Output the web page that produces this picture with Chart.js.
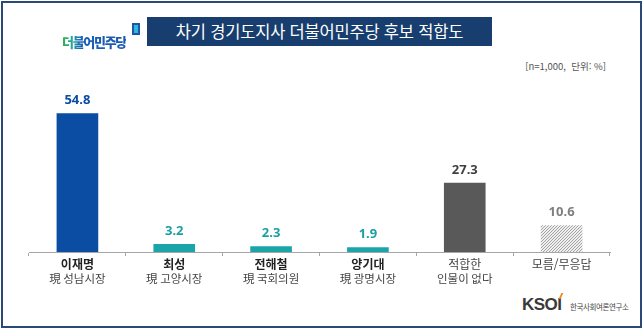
<!DOCTYPE html>
<html lang="ko">
<head>
<meta charset="utf-8">
<script src="https://cdn.jsdelivr.net/npm/chart.js@4.4.1/dist/chart.umd.min.js"></script>
<style>
  html, body { margin: 0; padding: 0; background: #fff; }
  body { width: 643px; height: 329px; position: relative; overflow: hidden;
         font-family: "Noto Sans CJK KR", "Noto Sans", sans-serif; }
  .frame { position: absolute; left: 1px; top: 1px; width: 637px; height: 323px;
           border: 2px solid #2a4878; }
  .title { position: absolute; left: 147px; top: 17px; width: 345px; height: 29px;
           background: #173e6e; color: #fff; font-size: 16.5px; line-height: 29px;
           text-align: center; letter-spacing: -0.2px; }
  .party { position: absolute; left: 62px; top: 34px; font-size: 13px; font-weight: 900;
           letter-spacing: -1.3px; line-height: 16px;
           background: linear-gradient(90deg, #35b046 0%, #23a7a0 16%, #1a62b6 30%, #1a58ad 100%);
           -webkit-background-clip: text; background-clip: text; color: transparent; }
  .flag { position: absolute; left: 132px; top: 23px; width: 4px; height: 8px;
          border: 2px solid #1d57a8; background: #2fb8d8; }
  .note { position: absolute; right: 37px; top: 59px; font-size: 9.5px; color: #555; }
  .ksoi { position: absolute; left: 522px; top: 296px; font-family: "Liberation Sans", sans-serif;
          font-size: 17px; font-weight: 700; color: #3a3a3a; letter-spacing: -0.5px; line-height: 18px; }
  .ksoi i { position: absolute; left: 38px; top: -3px; width: 2px; height: 6px; background: #f08a1c;
            transform: skewX(-25deg); }
  .ksoi-sub { position: absolute; left: 570px; top: 301px; font-size: 7.5px; color: #444;
              letter-spacing: -0.4px; }
  .wrap { position: absolute; left: 0; top: 0; width: 643px; height: 329px; }
</style>
</head>
<body>
<div class="frame"></div>
<div class="party">더불어민주당</div>
<div class="flag"></div>
<div class="title">차기 경기도지사 더불어민주당 후보 적합도</div>
<div class="note">[n=1,000,&nbsp; 단위: %]</div>
<div class="ksoi">KSOI<i></i></div>
<div class="ksoi-sub">한국사회여론연구소</div>
<div class="wrap"><canvas id="chart"></canvas></div>

<script>
// 후보별 적합도 (%)
const names = ["이재명", "최성", "전해철", "양기대", "적합한", "모름/무응답"];
const roles = ["現 성남시장", "現 고양시장", "現 국회의원", "現 광명시장", "인물이 없다", ""];
const values = [54.8, 3.2, 2.3, 1.9, 27.3, 10.6];

// 무응답 막대용 빗금 패턴
function hatch() {
  const c = document.createElement("canvas");
  c.width = 3; c.height = 3;
  const g = c.getContext("2d");
  g.fillStyle = "#efefef";
  g.fillRect(0, 0, 3, 3);
  g.strokeStyle = "#9a9a9a";
  g.lineWidth = 0.9;
  g.beginPath();
  g.moveTo(-1, 4); g.lineTo(4, -1);
  g.moveTo(-1, 1); g.lineTo(1, -1);
  g.moveTo(2, 4); g.lineTo(4, 2);
  g.stroke();
  return g.createPattern(c, "repeat");
}

const ctx = document.getElementById("chart").getContext("2d");
const barColors = ["#0b4da2", "#1ba5a8", "#1ba5a8", "#1ba5a8", "#595959", hatch()];
const labelColors = ["#0b4da2", "#1a9fa3", "#1a9fa3", "#1a9fa3", "#404040", "#7f7f7f"];

// 막대 위 수치
const valueLabels = {
  id: "valueLabels",
  afterDatasetsDraw(chart) {
    const c = chart.ctx;
    const meta = chart.getDatasetMeta(0);
    c.save();
    c.font = "bold 13px 'Noto Sans', 'Noto Sans CJK KR', sans-serif";
    c.textAlign = "center";
    c.textBaseline = "middle";
    meta.data.forEach((bar, i) => {
      c.fillStyle = labelColors[i];
      c.fillText(values[i].toFixed(1), bar.x, bar.y - 13);
    });
    c.restore();
  }
};

// 두 줄 항목명 (후보 이름은 굵게)
const categoryLabels = {
  id: "categoryLabels",
  afterDraw(chart) {
    const c = chart.ctx;
    const x = chart.scales.x;
    c.save();
    c.textAlign = "center";
    c.textBaseline = "middle";
    names.forEach((n, i) => {
      const px = x.getPixelForValue(i);
      const bold = i < 4;
      c.font = (bold ? "bold " : "") + "12px 'Noto Sans CJK KR', sans-serif";
      c.fillStyle = bold ? "#222" : "#444";
      c.fillText(n, px, 264);
      if (roles[i]) {
        c.font = "11.5px 'Noto Sans CJK KR', sans-serif";
        c.fillStyle = "#444";
        c.fillText(roles[i], px, 279);
      }
    });
    c.restore();
  }
};

new Chart(ctx, {
  type: "bar",
  data: {
    labels: names,
    datasets: [{
      data: values,
      backgroundColor: barColors,
      borderWidth: 0,
      categoryPercentage: 1,
      barPercentage: 0.43
    }]
  },
  options: {
    responsive: true,
    maintainAspectRatio: false,
    animation: false,
    layout: { padding: { left: 29, right: 33, top: 100, bottom: 0 } },
    plugins: { legend: { display: false }, tooltip: { enabled: false } },
    scales: {
      x: {
        offset: true,
        grid: { display: true, drawOnChartArea: false, drawTicks: true, tickLength: 4, color: "#a6a6a6", offset: true },
        border: { color: "#a6a6a6", width: 1 },
        ticks: { display: false },
        afterFit: (s) => { s.height = 77; }
      },
      y: { display: false, min: 0, max: 60 }
    }
  },
  plugins: [valueLabels, categoryLabels]
});
</script>
</body>
</html>
